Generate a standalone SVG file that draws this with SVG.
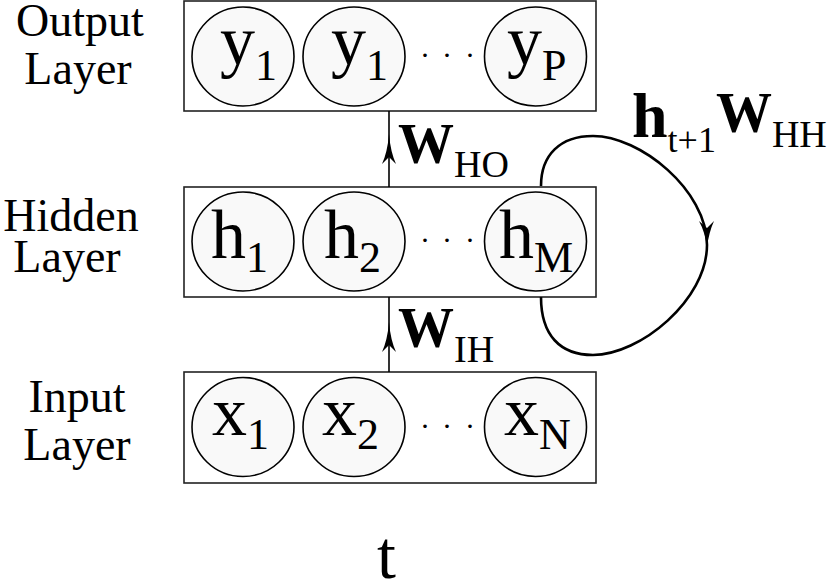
<svg xmlns="http://www.w3.org/2000/svg" width="830" height="583" viewBox="0 0 830 583">
<style>
text{font-family:"Liberation Serif","Noto Serif",FreeSerif,"DejaVu Serif",serif;fill:#000}
.lbl{font-size:46px;text-anchor:middle}
.box{fill:#fff;stroke:#222;stroke-width:1.6}
.node{fill:#f9f9f9;stroke:#000;stroke-width:1.6}
.sym{font-size:70px}
.sub{font-size:44px}
.dots{font-size:30px;text-anchor:middle}
.wb{font-weight:bold;font-size:56px}
.ws{font-weight:normal;font-size:38px}
.ln{fill:none;stroke:#000;stroke-width:1.6}
.loop{fill:none;stroke:#000;stroke-width:2.6}
.head{fill:#000;stroke:none}
</style>
<rect width="830" height="583" fill="#fff"/>
<g id="labels">
<text class="lbl" x="80" y="36">Output</text>
<text class="lbl" x="78" y="84">Layer</text>
<text class="lbl" x="71" y="231">Hidden</text>
<text class="lbl" x="67" y="272">Layer</text>
<text class="lbl" x="77" y="412">Input</text>
<text class="lbl" x="77" y="460">Layer</text>
<text x="377" y="578" style="font-size:68px">t</text>
</g>
<g id="output-layer">
<rect class="box" x="184" y="1" width="412" height="110"/>
<g id="y1"><ellipse class="node" cx="243" cy="56.5" rx="51" ry="49.5"/><text class="sym" x="220" y="64">y<tspan class="sub" dy="16">1</tspan></text></g>
<g id="y1b"><ellipse class="node" cx="354" cy="56.5" rx="51" ry="49.5"/><text class="sym" x="331" y="64">y<tspan class="sub" dy="16">1</tspan></text></g>
<g id="yP"><ellipse class="node" cx="535.5" cy="56.5" rx="51" ry="49.5"/><text class="sym" x="507" y="64">y<tspan class="sub" dy="16">P</tspan></text></g>
<text class="dots" x="425 447 470" y="65">···</text>
</g>
<g id="hidden-layer">
<rect class="box" x="184" y="187" width="412" height="110"/>
<g id="h1"><ellipse class="node" cx="243" cy="241.5" rx="51" ry="49.5"/><text class="sym" x="211" y="258">h<tspan class="sub" dy="14">1</tspan></text></g>
<g id="h2"><ellipse class="node" cx="354" cy="241.5" rx="51" ry="49.5"/><text class="sym" x="324" y="258">h<tspan class="sub" dy="14">2</tspan></text></g>
<g id="hM"><ellipse class="node" cx="535.5" cy="241.5" rx="51" ry="49.5"/><text class="sym" x="499" y="258">h<tspan class="sub" dy="14">M</tspan></text></g>
<text class="dots" x="425 447 470" y="250">···</text>
</g>
<g id="input-layer">
<rect class="box" x="184" y="372" width="412" height="111"/>
<g id="x1"><ellipse class="node" cx="243" cy="427" rx="51" ry="49.5"/><text class="sym" x="212" y="435">x<tspan class="sub" dy="14">1</tspan></text></g>
<g id="x2"><ellipse class="node" cx="354" cy="427" rx="51" ry="49.5"/><text class="sym" x="322" y="435">x<tspan class="sub" dy="14">2</tspan></text></g>
<g id="xN"><ellipse class="node" cx="535.5" cy="427" rx="51" ry="49.5"/><text class="sym" x="504" y="435">x<tspan class="sub" dy="14">N</tspan></text></g>
<text class="dots" x="425 447 470" y="436">···</text>
</g>
<g id="connectors">
<line class="ln" x1="389" y1="111" x2="389" y2="187"/>
<path class="head" d="M389,134 Q390.5,152 396,164 L389,157 L382,164 Q387.5,152 389,134 Z"/>
<line class="ln" x1="389" y1="297" x2="389" y2="372"/>
<path class="head" d="M389,322 Q390.5,340 396,352 L389,345 L382,352 Q387.5,340 389,322 Z"/>
<path class="loop" d="M541,186 C541,155 560,136 593,136 C640,136 707,190 707,245 C707,300 640,355 593,355 C560,355 541,335 541,297"/>
<path class="head" d="M707,247 Q705,232 699,221 L707,228 L714,221 Q709,232 707,247 Z"/>
<text class="wb" x="398" y="163">W<tspan class="ws" dy="14">HO</tspan></text>
<text class="wb" x="398" y="347">W<tspan class="ws" dy="15">IH</tspan></text>
<text style="font-weight:bold;font-size:64px" x="632" y="137">h<tspan style="font-weight:normal;font-size:36px" dy="15">t+1</tspan><tspan class="wb" dy="-20">W</tspan><tspan class="ws" dy="15">HH</tspan></text>
</g>
</svg>
